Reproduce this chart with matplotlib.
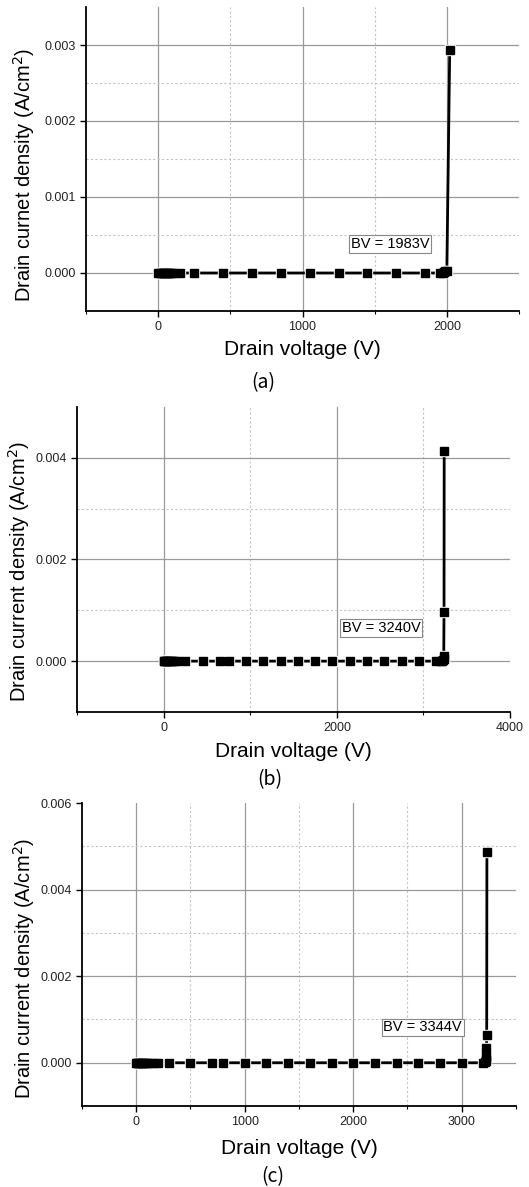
import matplotlib
matplotlib.use('Agg')
import matplotlib.pyplot as plt
from matplotlib.ticker import MultipleLocator, FormatStrFormatter

plt.rcParams['font.family'] = ['Liberation Sans', 'DejaVu Sans']

# (a) BV = 1983V
a_volt = [0, 10, 20, 30, 40, 50, 60, 70, 80, 90, 100, 150, 250, 450, 650, 850,
          1050, 1250, 1450, 1650, 1850, 1950, 1970, 1983, 1990, 2000, 2020]
a_curr = [0, 0, 0, 0, 0, 0, 0, 0, 0, 0, 0, 0, 0, 0, 0, 0,
          0, 0, 0, 0, 0, 0, 0.000005, 0.00001, 0.00002, 0.00003, 0.00294]

# (b) BV = 3240V
b_volt = [0, 10, 20, 30, 40, 50, 60, 80, 100, 120, 150, 250, 450, 650, 750, 950,
          1150, 1350, 1550, 1750, 1950, 2150, 2350, 2550, 2750, 2950, 3150, 3200,
          3220, 3230, 3232, 3235, 3238, 3240]
b_curr = [0, 0, 0, 0, 0, 0, 0, 0, 0, 0, 0, 0, 0, 0, 0, 0,
          0, 0, 0, 0, 0, 0, 0, 0, 0, 0, 0, 0,
          0.000005, 0.00002, 0.00005, 0.0001, 0.00097, 0.00414]

# (c) BV = 3344V
c_volt = [0, 10, 20, 30, 40, 50, 60, 80, 100, 120, 150, 200, 300, 500, 700, 800,
          1000, 1200, 1400, 1600, 1800, 2000, 2200, 2400, 2600, 2800, 3000, 3200,
          3215, 3220, 3224, 3226, 3228, 3230, 3232]
c_curr = [0, 0, 0, 0, 0, 0, 0, 0, 0, 0, 0, 0, 0, 0, 0, 0,
          0, 0, 0, 0, 0, 0, 0, 0, 0, 0, 0, 0,
          0.00001, 0.00003, 0.00008, 0.00015, 0.00035, 0.00064, 0.00486]


def inner(locs, lo, hi):
    span = hi - lo
    return [v for v in locs if lo + 1e-6 * span < v < hi - 1e-6 * span]


def draw_grid(ax):
    # Origin style grid: solid major, dotted minor, nothing on the axis limits
    x0, x1 = ax.get_xlim()
    y0, y1 = ax.get_ylim()
    maj = dict(color='#999999', lw=0.9, zorder=1)
    mnr = dict(color='#c4c4c4', lw=0.8, ls=(0, (2, 2)), zorder=1)
    for v in inner(ax.xaxis.get_majorticklocs(), x0, x1):
        ax.axvline(v, **maj)
    for v in inner(ax.xaxis.get_minorticklocs(), x0, x1):
        ax.axvline(v, **mnr)
    for v in inner(ax.yaxis.get_majorticklocs(), y0, y1):
        ax.axhline(v, **maj)
    for v in inner(ax.yaxis.get_minorticklocs(), y0, y1):
        ax.axhline(v, **mnr)


def draw_panel(ax, x, y, xlim, ylim, xmaj, xmin, ymaj, ymin, ylabel, bv_text, bv_pos,
               ylab_xy, xlab_y):
    ax.plot(x, y, color='black', lw=2.0, zorder=3)
    # white squares first leave a small gap between line and symbols
    ax.plot(x, y, ls='none', marker='s', ms=7.2, mfc='white', mec='white', zorder=3.5)
    ax.plot(x, y, ls='none', marker='s', ms=5.2, mfc='black', mec='black', zorder=4)
    ax.set_xlim(*xlim)
    ax.set_ylim(*ylim)
    ax.xaxis.set_major_locator(MultipleLocator(xmaj))
    ax.xaxis.set_minor_locator(MultipleLocator(xmin))
    ax.yaxis.set_major_locator(MultipleLocator(ymaj))
    ax.yaxis.set_minor_locator(MultipleLocator(ymin))
    ax.yaxis.set_major_formatter(FormatStrFormatter('%.3f'))
    draw_grid(ax)
    ax.set_xlim(*xlim)
    ax.set_ylim(*ylim)
    for s in ['top', 'right']:
        ax.spines[s].set_visible(False)
    for s in ['left', 'bottom']:
        ax.spines[s].set_linewidth(1.3)
    ax.tick_params(which='major', direction='out', length=4, width=1, labelsize=9,
                   labelcolor='#222222')
    ax.tick_params(which='minor', direction='out', length=2.5, width=0.8)
    ax.tick_params(axis='y', which='minor', length=0)

    ax.set_xlabel('Drain voltage (V)', fontsize=15)
    ax.xaxis.set_label_coords(0.5, xlab_y)
    ax.set_ylabel(ylabel, fontsize=14.5)
    ax.yaxis.set_label_coords(*ylab_xy)

    ax.text(bv_pos[0], bv_pos[1], bv_text, fontsize=10.5, ha='center', va='center',
            bbox=dict(boxstyle='square,pad=0.12', fc='white', ec='#888888', lw=0.8),
            zorder=5)


fig = plt.figure(figsize=(5.29, 11.87), dpi=100)

ax_a = fig.add_axes([0.1626, 0.738, 0.8185, 0.2561])
ax_b = fig.add_axes([0.1456, 0.4002, 0.8185, 0.257])
ax_c = fig.add_axes([0.155, 0.0682, 0.8204, 0.2553])

draw_panel(ax_a, a_volt, a_curr, (-500, 2500), (-0.0005, 0.0035), 1000, 500, 0.001, 0.0005,
           'Drain curnet density (A/cm$^2$)', 'BV = 1983V', (1605, 0.00038),
           (-0.113, 0.449), -0.095)
ax_a.set_xticks([0, 1000, 2000])

draw_panel(ax_b, b_volt, b_curr, (-1000, 4000), (-0.001, 0.005), 2000, 1000, 0.002, 0.001,
           'Drain current density (A/cm$^2$)', 'BV = 3240V', (2510, 0.00065),
           (-0.104, 0.459), -0.1)
ax_b.set_xticks([0, 2000, 4000])
ax_b.set_xlim(-1000, 4000)

draw_panel(ax_c, c_volt, c_curr, (-500, 3500), (-0.001, 0.006), 1000, 500, 0.002, 0.001,
           'Drain current density (A/cm$^2$)', 'BV = 3344V', (2640, 0.00082),
           (-0.104, 0.454), -0.108)
ax_c.set_xticks([0, 1000, 2000, 3000])

cap_font = ['Noto Sans CJK KR', 'DejaVu Sans']
fig.text(263 / 529, 1 - 383 / 1187, '(a)', fontsize=14, family=cap_font, ha='center',
         va='center', weight='light')
fig.text(270 / 529, 1 - 780 / 1187, '(b)', fontsize=14, family=cap_font, ha='center',
         va='center', weight='light')
fig.text(273 / 529, 1 - 1177 / 1187, '(c)', fontsize=14, family=cap_font, ha='center',
         va='center', weight='light')

fig.savefig('out.png', dpi=100)
